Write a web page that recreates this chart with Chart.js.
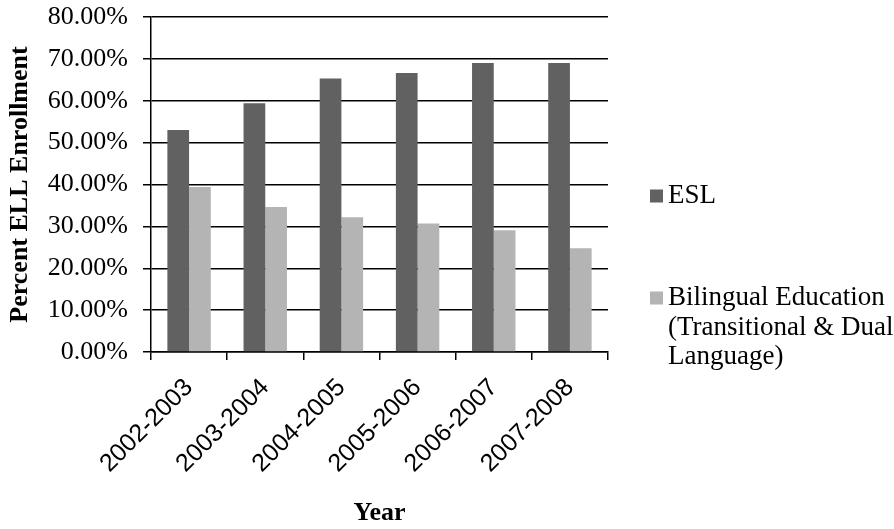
<!DOCTYPE html>
<html>
<head>
<meta charset="utf-8">
<script src="https://cdn.jsdelivr.net/npm/chart.js@4"></script>
<style>
html,body{margin:0;padding:0;background:#fff;}
#wrap{width:894px;height:529px;position:relative;}
</style>
</head>
<body>
<div id="wrap"><canvas id="c" width="894" height="529"></canvas></div>
<script>
const categories = ['2002-2003','2003-2004','2004-2005','2005-2006','2006-2007','2007-2008'];
const eslValues = [53.0, 59.4, 65.3, 66.6, 69.0, 69.0];
const bilingualValues = [39.4, 34.6, 32.2, 30.7, 29.1, 24.8];
const seriesLabels = ['ESL', 'Bilingual Education (Transitional & Dual Language)'];
const legendLines = [['ESL'], ['Bilingual Education', '(Transitional & Dual', 'Language)']];
const yTitle = 'Percent ELL Enrollment';
const xTitle = 'Year';

const serif = '"Liberation Serif", "Times New Roman", serif';
const sans = '"Liberation Sans", Arial, sans-serif';

const legendPlugin = {
  id: 'sideLegend',
  afterDraw(chart) {
    const ctx = chart.ctx;
    const ds = chart.data.datasets;
    const squareX = 650, textX = 668, sq = 13;
    const firstLineY = [196, 298];
    const lineGap = 29.5;
    ctx.save();
    ctx.font = '27px ' + serif;
    ctx.textBaseline = 'middle';
    ctx.textAlign = 'left';
    ds.forEach((d, i) => {
      const y0 = firstLineY[i];
      ctx.fillStyle = d.backgroundColor;
      ctx.fillRect(squareX, y0 - sq / 2, sq, sq);
      ctx.fillStyle = '#000';
      legendLines[i].forEach((t, j) => {
        ctx.fillText(t, textX, y0 + j * lineGap);
      });
    });
    ctx.restore();
  }
};

new Chart(document.getElementById('c'), {
  type: 'bar',
  data: {
    labels: categories,
    datasets: [
      { label: seriesLabels[0], data: eslValues, backgroundColor: '#616161', borderWidth: 0,
        categoryPercentage: 0.57, barPercentage: 1.0 },
      { label: seriesLabels[1], data: bilingualValues, backgroundColor: '#b4b4b4', borderWidth: 0,
        categoryPercentage: 0.57, barPercentage: 1.0 }
    ]
  },
  options: {
    responsive: false,
    animation: false,
    devicePixelRatio: 1,
    layout: { padding: { left: 2, right: 286, top: 17, bottom: 0 } },
    plugins: {
      legend: { display: false },
      tooltip: { enabled: false },
      title: { display: false }
    },
    scales: {
      x: {
        offset: true,
        grid: { display: true, drawOnChartArea: false, drawTicks: true, tickLength: 8, color: '#000', lineWidth: 1.5, offset: true },
        border: { display: true, color: '#000', width: 1.5 },
        ticks: { color: '#000', font: { family: sans, size: 25 }, minRotation: 45, maxRotation: 45, padding: 13, autoSkip: false },
        title: { display: true, text: xTitle, color: '#000', font: { family: serif, size: 26, weight: 'bold' }, padding: { top: 0, bottom: 0 } },
        afterFit(scale) { scale.height = 177; }
      },
      y: {
        min: 0, max: 80,
        grid: { color: '#000', lineWidth: 1.5, drawTicks: true, tickLength: 8 },
        border: { display: true, color: '#000', width: 1.5 },
        ticks: { stepSize: 10, color: '#000', font: { family: serif, size: 26 }, padding: 15,
          callback: (v) => v.toFixed(2) + '%' },
        title: { display: true, text: yTitle, color: '#000', font: { family: serif, size: 26, weight: 'bold' }, padding: { top: 3, bottom: 3 } },
        afterFit(scale) { scale.width = 149; scale.paddingTop = 0; scale.paddingBottom = 0; }
      }
    }
  },
  plugins: [legendPlugin]
});
</script>
</body>
</html>
